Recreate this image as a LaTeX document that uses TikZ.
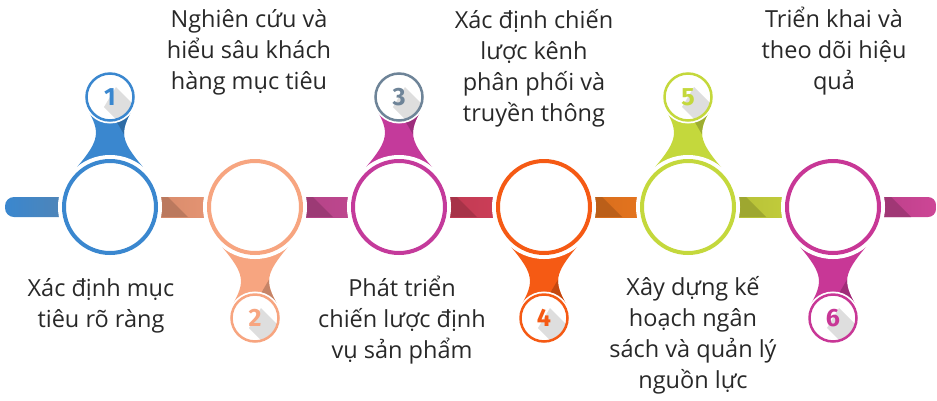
\documentclass[tikz,border=0pt]{standalone}
\usepackage{fontspec}
\setmainfont{Open Sans}
\newfontfamily\numfont{Fira Sans}
\usepackage{tikz}
\usetikzlibrary{calc}
\definecolor{sBlue}{RGB}{58,135,207}
\definecolor{sPeach}{RGB}{247,165,128}
\definecolor{sMagenta}{RGB}{196,58,155}
\definecolor{sSlate}{RGB}{110,132,152}
\definecolor{sOrange}{RGB}{245,90,20}
\definecolor{sLime}{RGB}{196,216,60}
\definecolor{sPink}{RGB}{200,55,150}
\definecolor{barPeach}{RGB}{240,155,120}
\definecolor{barMagenta}{RGB}{200,75,150}
\definecolor{barCrimson}{RGB}{214,65,92}
\definecolor{barOrange}{RGB}{240,122,32}
\definecolor{barLime}{RGB}{203,214,62}
\definecolor{barPink}{RGB}{205,70,150}
\definecolor{txtgray}{RGB}{40,40,40}
\definecolor{shadowgray}{RGB}{222,222,222}

\begin{document}
\begin{tikzpicture}[x=1pt,y=-1pt,
  bigring/.style={circle,minimum size=92pt,inner sep=0pt,fill=white,draw=#1,line width=4pt,
    preaction={draw=white,line width=12pt}},
  numring/.style={circle,minimum size=47pt,inner sep=0pt,fill=white,draw=#1,line width=2.5pt,
    text=#1,font=\numfont\bfseries\fontsize{25}{25}\selectfont,
    preaction={draw=white,line width=6pt},
    path picture={\fill[shadowgray] ([shift={(6,-10)}]path picture bounding box.center)
      -- ++(40,40) -- ++(-12,20) -- ++(-40,-40) -- cycle;}},
  steptext/.style={align=center,anchor=base,inner sep=0pt,text=txtgray,
    font=\fontsize{23.5}{31}\selectfont}]
  \useasboundingbox (0,0) rectangle (937,400);
  % centres of rings and badges
  \coordinate (p1) at (110,207);
  \coordinate (p2) at (255,207);
  \coordinate (p3) at (399,207);
  \coordinate (p4) at (544,207);
  \coordinate (p5) at (688,207);
  \coordinate (p6) at (833,207);
  \coordinate (q1) at (110,97);
  \coordinate (q2) at (255,318);
  \coordinate (q3) at (399,97);
  \coordinate (q4) at (544,318);
  \coordinate (q5) at (688,97);
  \coordinate (q6) at (833,318);
  % bars
  \shade[left color=sBlue,right color=sBlue!45!gray,rounded corners=9pt]
    (5,197) rectangle ([yshift=-10pt]p1);
  \shade[left color=barPeach!85!black,right color=barPeach] ([yshift=10pt]p1) rectangle ([yshift=-10pt]p2);
  \shade[left color=barMagenta!85!black,right color=barMagenta] ([yshift=10pt]p2) rectangle ([yshift=-10pt]p3);
  \shade[left color=barCrimson!85!black,right color=barCrimson] ([yshift=10pt]p3) rectangle ([yshift=-10pt]p4);
  \shade[left color=barOrange!85!black,right color=barOrange] ([yshift=10pt]p4) rectangle ([yshift=-10pt]p5);
  \shade[left color=barLime!85!black,right color=barLime] ([yshift=10pt]p5) rectangle ([yshift=-10pt]p6);
  \shade[left color=barPink!85!black,right color=barPink,rounded corners=8pt]
    ([yshift=10pt]p6) rectangle (936,217);
  % shadow on the bars
  \foreach \i/\c in {1/barPeach,2/barMagenta,3/barCrimson,4/barOrange,5/barLime,6/barPink}
    \fill[\c!78!black] ([shift={(40,-10)}]p\i) -- ([shift={(58,-10)}]p\i)
      -- ([shift={(78,10)}]p\i) -- ([shift={(40,10)}]p\i) -- cycle;
  % necks
  \foreach \i/\c/\s in {1/sBlue/1,2/sPeach/-1,3/sMagenta/1,4/sOrange/-1,5/sLime/1,6/sPink/-1}{
    \begin{scope}[shift={(p\i)},yscale=\s]
      \clip (-22,-97) .. controls (-10,-75) and (-10,-67) .. (-33,-40) -- (33,-40)
        .. controls (10,-67) and (10,-75) .. (22,-97) -- cycle;
      \fill[\c] (-40,-100) rectangle (40,-35);
      \fill[\c!80!black] (-2,-100) -- (40,-100) -- (40,-35) -- (36,-35) -- cycle;
    \end{scope}
  }
  % rings
  \node[bigring=sBlue] (big1) at (p1) {};
  \node[bigring=sPeach] (big2) at (p2) {};
  \node[bigring=sMagenta] (big3) at (p3) {};
  \node[bigring=sOrange] (big4) at (p4) {};
  \node[bigring=sLime] (big5) at (p5) {};
  \node[bigring=sPink] (big6) at (p6) {};
  % badges
  \node[numring=sBlue] (num1) at (q1) {1};
  \node[numring=sPeach] (num2) at (q2) {2};
  \node[numring=sSlate] (num3) at (q3) {3};
  \node[numring=sOrange] (num4) at (q4) {4};
  \node[numring=sLime] (num5) at (q5) {5};
  \node[numring=sPink] (num6) at (q6) {6};
  % texts (placed at the baseline of their last line)
  \node[steptext] (txt1) at (101,327) {Xác định mục\\tiêu rõ ràng};
  \node[steptext] (txt2) at (249,89) {Nghiên cứu và\\hiểu sâu khách\\hàng mục tiêu};
  \node[steptext] (txt3) at (402,358) {Phát triển\\chiến lược định\\vụ sản phẩm};
  \node[steptext] (txt4) at (534,121) {Xác định chiến\\lược kênh\\phân phối và\\truyền thông};
  \node[steptext] (txt5) at (693,388) {Xây dựng kế\\hoạch ngân\\sách và quản lý\\nguồn lực};
  \node[steptext] (txt6) at (834,89) {Triển khai và\\theo dõi hiệu\\quả};
\end{tikzpicture}
\end{document}
